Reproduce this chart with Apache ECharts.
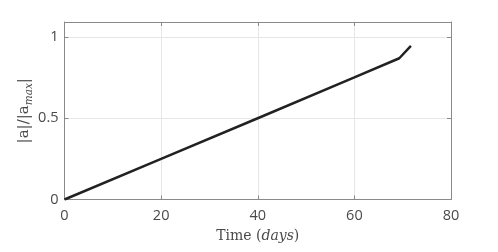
<!DOCTYPE html>
<html><head><meta charset="utf-8">
<script src="https://cdn.jsdelivr.net/npm/echarts@6/dist/echarts.min.js"></script>
<style>html,body{margin:0;padding:0;background:#fff}#c{width:498px;height:252px}</style>
</head><body><div id="c"></div>
<script>
const timeDays = [0, 20, 40, 60, 69.3, 71.7];
const accelRatio = [0, 0.25, 0.5, 0.751, 0.869, 0.945];
const xTicks = [0, 20, 40, 60, 80];
const yTicks = [0, 0.5, 1];

const chart = echarts.init(document.getElementById('c'));
const axisCol = '#8a8a8a';
const labCol = '#4a4a4a';
const tickFont = {color: labCol, fontSize: 14.5, fontFamily: 'Open Sans, sans-serif'};
chart.setOption({
  animation: false,
  grid: {left: 64.5, right: 47, top: 22, bottom: 52.5},
  xAxis: [{
    type: 'value', min: 0, max: 80, interval: 20,
    axisLine: {onZero: false, lineStyle: {color: axisCol}},
    axisTick: {inside: true, length: 4, lineStyle: {color: axisCol}},
    splitLine: {show: true, lineStyle: {color: '#e6e6e6'}},
    axisLabel: Object.assign({margin: 9, formatter: v => xTicks.includes(v) ? String(v) : ''}, tickFont),
    name: '{n|Time (}{i|days}{n|)}', nameLocation: 'middle', nameGap: 30,
    nameTextStyle: {rich: {
      n: {fontFamily: 'DejaVu Serif, serif', fontSize: 14, color: labCol},
      i: {fontFamily: 'DejaVu Serif, serif', fontStyle: 'italic', fontSize: 14, color: labCol}
    }}
  }, {
    type: 'value', min: 0, max: 80, interval: 20, position: 'top',
    axisLine: {show: true, onZero: false, lineStyle: {color: axisCol}},
    axisTick: {show: true, inside: true, length: 4, lineStyle: {color: axisCol}},
    axisLabel: {show: false}, splitLine: {show: false}
  }],
  yAxis: [{
    type: 'value', min: 0, max: 1.092, interval: 0.5,
    axisLine: {show: true, onZero: false, lineStyle: {color: axisCol}},
    axisTick: {show: true, inside: true, length: 4, lineStyle: {color: axisCol}},
    splitLine: {show: true, lineStyle: {color: '#e6e6e6'}},
    axisLabel: Object.assign({margin: 6, formatter: v => yTicks.includes(v) ? String(v) : ''}, tickFont),
    name: '{n||a|/|a}{s|max}{n||}', nameLocation: 'middle', nameGap: 30, nameRotate: 90,
    nameMoveOverlap: false,
    nameTextStyle: {rich: {
      n: {fontFamily: 'DejaVu Serif, serif', fontSize: 15, color: labCol, lineHeight: 20, verticalAlign: 'middle'},
      s: {fontFamily: 'DejaVu Serif, serif', fontStyle: 'italic', fontSize: 10.5, color: labCol, lineHeight: 20, verticalAlign: 'bottom', padding: [6, 0, 0, 0]}
    }}
  }, {
    type: 'value', min: 0, max: 1.092, interval: 0.5, position: 'right',
    axisLine: {show: true, onZero: false, lineStyle: {color: axisCol}},
    axisTick: {show: true, inside: true, length: 4, lineStyle: {color: axisCol}},
    axisLabel: {show: false}, splitLine: {show: false}
  }],
  series: [{
    type: 'line', xAxisIndex: 0, yAxisIndex: 0,
    data: timeDays.map((t, i) => [t, accelRatio[i]]),
    showSymbol: false, symbol: 'none',
    lineStyle: {color: '#222', width: 2.5}
  }]
});
</script></body></html>
